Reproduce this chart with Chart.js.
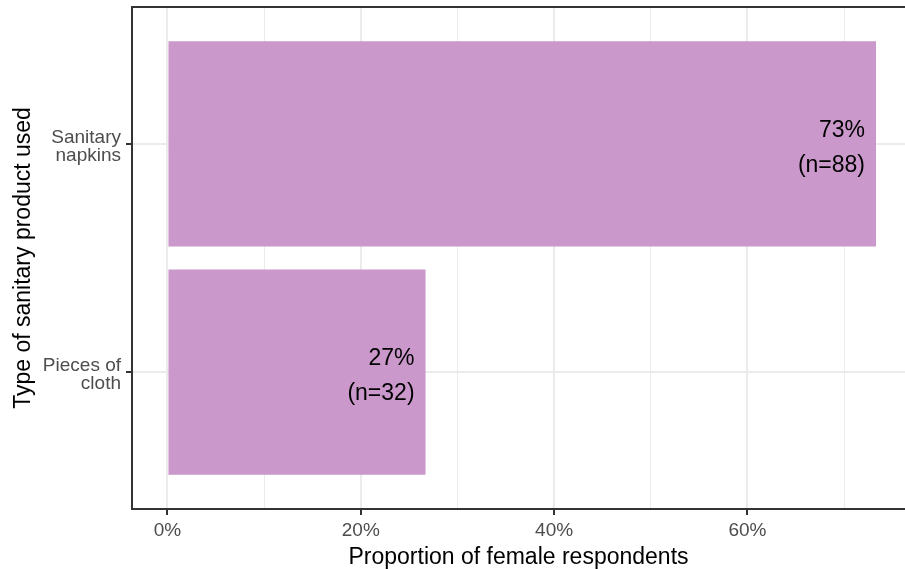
<!DOCTYPE html>
<html>
<head>
<meta charset="utf-8">
<script src="https://cdn.jsdelivr.net/npm/chart.js@4.4.1/dist/chart.umd.min.js"></script>
<style>
  body { margin: 0; background: #fff; }
</style>
</head>
<body>
<canvas id="productChart" width="905" height="569"></canvas>
<script>
const categories = ['Sanitary\nnapkins', 'Pieces of\ncloth'];
const positions = [1, 2];          // slot of each category on the y axis
const proportions = [73.3, 26.7];  // % of female respondents
const counts = [88, 32];
const xTicks = [0, 10, 20, 30, 40, 50, 60, 70];
const xTickLabels = ['0%', '', '20%', '', '40%', '', '60%', ''];

const fontFamily = '"Liberation Sans", Arial, sans-serif';

// labels inside the bars + the panel's top border
const barLabels = {
    id: 'barLabels',
    afterDatasetsDraw(chart) {
        const ctx = chart.ctx;
        const xs = chart.scales.x;
        const ys = chart.scales.y;
        ctx.save();
        ctx.font = '23px ' + fontFamily;
        ctx.fillStyle = '#000';
        ctx.textAlign = 'right';
        ctx.textBaseline = 'middle';
        for (let i = 0; i < proportions.length; i++) {
            const x = xs.getPixelForValue(proportions[i]) - 11;
            const y = ys.getPixelForValue(positions[i]);
            ctx.fillText(Math.round(proportions[i]) + '%', x, y - 13);
            ctx.fillText('(n=' + counts[i] + ')', x, y + 21.5);
        }
        const area = chart.chartArea;
        ctx.strokeStyle = '#333';
        ctx.lineWidth = 2;
        ctx.beginPath();
        ctx.moveTo(area.left - 1, area.top);
        ctx.lineTo(area.right, area.top);
        ctx.stroke();
        ctx.restore();
    }
};

const productChart = new Chart(document.getElementById('productChart'), {
    type: 'bar',
    data: {
        datasets: [{
            data: proportions.map((v, i) => ({ x: v, y: positions[i] })),
            backgroundColor: '#CA98CA',
            borderWidth: 0,
            barPercentage: 0.9,
            categoryPercentage: 1
        }]
    },
    options: {
        indexAxis: 'y',
        responsive: false,
        devicePixelRatio: 1,
        animation: false,
        layout: { padding: { top: 7, right: 0, left: 0, bottom: 0 } },
        plugins: {
            legend: { display: false },
            tooltip: { enabled: false }
        },
        scales: {
            x: {
                type: 'linear',
                min: -3.667,
                max: 76.3,
                afterBuildTicks: (s) => { s.ticks = xTicks.map(v => ({ value: v })); },
                afterFit: (s) => { s.height = 60; s.paddingLeft = 0; s.paddingRight = 0; },
                ticks: {
                    autoSkip: false,
                    maxRotation: 0,
                    padding: 4,
                    color: '#4D4D4D',
                    font: { family: fontFamily, size: 19 },
                    callback: (v) => xTickLabels[xTicks.indexOf(v)]
                },
                grid: {
                    color: '#EBEBEB',
                    lineWidth: (c) => (c.tick && c.tick.value % 20 === 0) ? 2 : 1,
                    tickColor: (c) => (c.tick && c.tick.value % 20 === 0) ? '#333' : 'rgba(0,0,0,0)',
                    tickWidth: 2,
                    tickLength: 6
                },
                border: { display: true, color: '#333', width: 2 },
                title: {
                    display: true,
                    text: 'Proportion of female respondents',
                    color: '#000',
                    font: { family: fontFamily, size: 23, lineHeight: 1.0 },
                    padding: { top: 0, bottom: 0 }
                }
            },
            y: {
                type: 'linear',
                reverse: true,
                min: 0.4,
                max: 2.6,
                offset: false,
                afterBuildTicks: (s) => { s.ticks = positions.map(v => ({ value: v })); },
                afterFit: (s) => { s.width = 132; s.paddingTop = 0; s.paddingBottom = 0; },
                ticks: {
                    autoSkip: false,
                    padding: 5,
                    labelOffset: 3,
                    color: '#4D4D4D',
                    font: { family: fontFamily, size: 19, lineHeight: 0.95 },
                    callback: (v) => categories[positions.indexOf(v)].split('\n')
                },
                grid: {
                    offset: false,
                    color: '#EBEBEB',
                    lineWidth: 2,
                    tickColor: '#333',
                    tickWidth: 2,
                    tickLength: 6
                },
                border: { display: true, color: '#333', width: 2 },
                title: {
                    display: true,
                    text: 'Type of sanitary product used',
                    color: '#000',
                    font: { family: fontFamily, size: 23 },
                    padding: { top: 10, bottom: 0 }
                }
            }
        }
    },
    plugins: [barLabels]
});
</script>
</body>
</html>
